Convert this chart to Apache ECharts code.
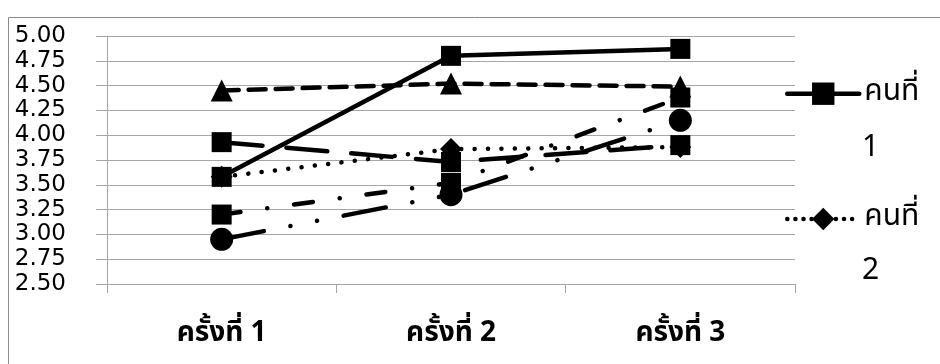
<!DOCTYPE html>
<html><head><meta charset="utf-8">
<script src="https://cdn.jsdelivr.net/npm/echarts@6/dist/echarts.min.js"></script>
<style>html,body{margin:0;padding:0;background:#fff}#c{width:940px;height:364px}</style>
</head><body><div id="c"></div>
<script>
const categories = ['ครั้งที่ 1', 'ครั้งที่ 2', 'ครั้งที่ 3'];
const seriesNames = ['คนที่ 1', 'คนที่ 2', 'คนที่ 3', 'คนที่ 4', 'คนที่ 5', 'คนที่ 6'];
const person1 = [3.58, 4.80, 4.87];
const person2 = [3.58, 3.86, 3.88];
const person3 = [4.45, 4.52, 4.49];
const person4 = [3.93, 3.73, 3.90];
const person5 = [3.20, 3.52, 4.38];
const person6 = [2.95, 3.40, 4.15];
const yTicks = ['2.50','2.75','3.00','3.25','3.50','3.75','4.00','4.25','4.50','4.75','5.00'];

const values = [person1, person2, person3, person4, person5, person6];
const symbols = ['rect', 'diamond', 'triangle', 'rect', 'rect', 'circle'];
const symbolSizes = [20, 22, 22, 20, 20, 23];
const dashes = ['solid', [0.1, 13.3], [17, 10], [41, 24], [19, 27, 0.1, 27], [43, 27, 0.1, 27, 0.1, 27]];

const thaiFont = '"Noto Sans Thai", "Noto Sans", "DejaVu Sans", sans-serif';
const series = values.map((v, i) => ({
  name: seriesNames[i],
  type: 'line',
  data: v,
  symbol: symbols[i],
  symbolSize: symbolSizes[i],
  showAllSymbol: true,
  animation: false,
  itemStyle: { color: '#000' },
  lineStyle: { color: '#000', width: 4.5, type: dashes[i], cap: 'round' }
}));

function mkLegend(name, top, dash) {
  return {
    data: [name], orient: 'vertical', left: 785, top: top, padding: 0,
    itemWidth: 72, itemHeight: 28, itemGap: 0, selectedMode: false,
    lineStyle: { width: 4.5, type: dash, cap: 'round' },
    formatter: n => n.split(' ')[0],
    textStyle: { fontFamily: thaiFont, fontSize: 30, color: '#000', lineHeight: 28 }
  };
}
function mkNum(name, cy) {
  return { type: 'text', left: 862, top: cy - 15, silent: true,
    style: { text: name.split(' ')[1], font: '30px ' + thaiFont, fill: '#000' } };
}

const chart = echarts.init(document.getElementById('c'), null, { renderer: 'canvas' });
chart.setOption({
  animation: false,
  backgroundColor: '#fff',
  grid: { left: 107, top: 36, width: 688, height: 248, containLabel: false },
  legend: [mkLegend(seriesNames[0], 92.7 - 14, 'solid'), mkLegend(seriesNames[1], 218 - 14, [0.1, 8])],
  graphic: [
    { type: 'rect', shape: { x: 8.5, y: 17.5, width: 1000, height: 500 }, style: { fill: 'none', stroke: '#8c8c8c', lineWidth: 1 }, silent: true },
    mkNum(seriesNames[0], 150),
    mkNum(seriesNames[1], 273)
  ],
  xAxis: {
    type: 'category', data: categories, boundaryGap: true,
    axisLine: { lineStyle: { color: '#a6a6a6', width: 1 } },
    axisTick: { show: true, length: 9, lineStyle: { color: '#a6a6a6' } },
    axisLabel: { fontFamily: thaiFont, fontSize: 28, fontWeight: 'bold', color: '#000', margin: 36, lineHeight: 30 }
  },
  yAxis: {
    type: 'value', min: 2.5, max: 5, interval: 0.25,
    axisLine: { show: true, lineStyle: { color: '#a6a6a6', width: 1 } },
    axisTick: { show: true, length: 11, lineStyle: { color: '#a6a6a6' } },
    splitLine: { lineStyle: { color: '#a6a6a6', width: 1 } },
    axisLabel: { fontFamily: '"DejaVu Sans", sans-serif', fontSize: 23, color: '#000', margin: 41,
      formatter: v => yTicks[Math.round((v - 2.5) / 0.25)] }
  },
  series: series
});
</script></body></html>
